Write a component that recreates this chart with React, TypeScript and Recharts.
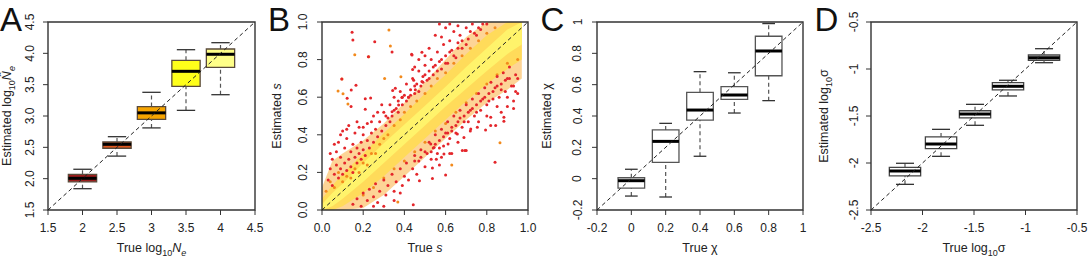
import React from 'react';
import { ComposedChart, XAxis, YAxis, Scatter, Area, ReferenceArea, ReferenceLine } from 'recharts';

const FONT = '"Liberation Sans", Arial, Helvetica, sans-serif';
const INK = '#222';

// Panel A: true vs estimated log10 Ne
const neTrue = [2, 2.5, 3, 3.5, 4];
const neLow = [1.84, 2.36, 2.81, 3.09, 3.34];
const neQ1 = [1.95, 2.485, 2.947, 3.474, 3.777];
const neMed = [2.006, 2.548, 3.05, 3.713, 3.985];
const neQ3 = [2.07, 2.585, 3.15, 3.888, 4.069];
const neHigh = [2.15, 2.67, 3.378, 4.058, 4.17];
const neFills = ['#9c1c1c', '#e2561c', '#f6a400', '#ffff1a', '#ffff88'];
const neTicks = [1.5, 2, 2.5, 3, 3.5, 4, 4.5];
const neXLabels = ['1.5', '2', '2.5', '3', '3.5', '4', '4.5'];
const neYLabels = ['1.5', '2.0', '2.5', '3.0', '3.5', '4.0', '4.5'];

// Panel B: true vs estimated s (dense cloud bands + scattered points)
const sBandX = [0, 0.05, 0.1, 0.2, 0.3, 0.4, 0.5, 0.6, 0.7, 0.8, 0.9, 0.97];
const sOuterLo = [0, 0, 0, 0.01, 0.08, 0.18, 0.28, 0.38, 0.48, 0.57, 0.64, 0.7];
const sOuterHi = [0.12, 0.26, 0.3, 0.37, 0.46, 0.57, 0.68, 0.8, 0.92, 1, 1, 1];
const sMidLo = [0, 0, 0.02, 0.09, 0.18, 0.28, 0.38, 0.48, 0.58, 0.67, 0.75, 0.8];
const sMidHi = [0.06, 0.13, 0.19, 0.3, 0.41, 0.51, 0.62, 0.72, 0.83, 0.93, 1, 1];
const sCoreLo = [0, 0.02, 0.06, 0.15, 0.25, 0.35, 0.45, 0.55, 0.645, 0.74, 0.83, 0.88];
const sCoreHi = [0.03, 0.09, 0.14, 0.25, 0.355, 0.455, 0.555, 0.655, 0.76, 0.86, 0.96, 1];

const sRed: [number, number][] = [
  [0.03, 0.16], [0.04, 0.22], [0.05, 0.27], [0.05, 0.13], [0.06, 0.19], [0.07, 0.24], [0.07, 0.31], [0.08, 0.17],
  [0.08, 0.36], [0.09, 0.22], [0.09, 0.28], [0.1, 0.42], [0.1, 0.19], [0.11, 0.25], [0.11, 0.33], [0.12, 0.21],
  [0.12, 0.38], [0.13, 0.27], [0.13, 0.45], [0.14, 0.23], [0.14, 0.31], [0.15, 0.35], [0.15, 0.2], [0.16, 0.28],
  [0.16, 0.41], [0.17, 0.25], [0.17, 0.33], [0.18, 0.3], [0.18, 0.44], [0.19, 0.27], [0.19, 0.36], [0.2, 0.32],
  [0.2, 0.4], [0.21, 0.29], [0.22, 0.37], [0.22, 0.46], [0.23, 0.33], [0.24, 0.41], [0.25, 0.36], [0.25, 0.5],
  [0.26, 0.43], [0.27, 0.39], [0.28, 0.47], [0.29, 0.42], [0.3, 0.52], [0.31, 0.45], [0.32, 0.49], [0.33, 0.56],
  [0.34, 0.5], [0.35, 0.6], [0.36, 0.54], [0.37, 0.58], [0.38, 0.63], [0.39, 0.56], [0.4, 0.61], [0.41, 0.67],
  [0.42, 0.6], [0.43, 0.64], [0.44, 0.7], [0.45, 0.62], [0.46, 0.67], [0.47, 0.74], [0.48, 0.66], [0.49, 0.71],
  [0.5, 0.77], [0.51, 0.69], [0.52, 0.74], [0.53, 0.8], [0.54, 0.72], [0.55, 0.77], [0.56, 0.84], [0.57, 0.79],
  [0.58, 0.75], [0.59, 0.88], [0.6, 0.82], [0.61, 0.78], [0.62, 0.9], [0.63, 0.85], [0.64, 0.95], [0.65, 0.81],
  [0.66, 0.89], [0.67, 0.93], [0.68, 0.86], [0.7, 0.97], [0.71, 0.91], [0.73, 0.99], [0.74, 0.94], [0.76, 0.97],
  [0.78, 0.99], [0.57, 0.99], [0.6, 0.97], [0.62, 0.99], [0.55, 0.93],
  [0.31, 0.5], [0.33, 0.47], [0.35, 0.53], [0.37, 0.52], [0.39, 0.6], [0.41, 0.58], [0.43, 0.61], [0.45, 0.66],
  [0.47, 0.63], [0.49, 0.68], [0.5, 0.72], [0.52, 0.7], [0.54, 0.76], [0.56, 0.74], [0.58, 0.8], [0.6, 0.78],
  [0.62, 0.84], [0.64, 0.82], [0.66, 0.86], [0.68, 0.9], [0.7, 0.88], [0.72, 0.95], [0.75, 0.93], [0.77, 0.96],
  [0.8, 0.99], [0.52, 0.86], [0.5, 0.82], [0.47, 0.8], [0.45, 0.76], [0.58, 0.92], [0.66, 0.98], [0.06, 0.35],
  [0.04, 0.3], [0.09, 0.4], [0.12, 0.43], [0.17, 0.47], [0.2, 0.44], [0.24, 0.47], [0.27, 0.52], [0.29, 0.56],
  [0.146, 0.945], [0.15, 0.904], [0.256, 0.895], [0.34, 0.84], [0.437, 0.824], [0.485, 0.839], [0.44, 0.748],
  [0.445, 0.69], [0.165, 0.663], [0.142, 0.638], [0.343, 0.635], [0.356, 0.647], [0.21, 0.592], [0.236, 0.596],
  [0.388, 0.599], [0.141, 0.55], [0.21, 0.536], [0.34, 0.523], [0.372, 0.558], [0.42, 0.6], [0.453, 0.64],
  [0.485, 0.683], [0.225, 0.815], [0.096, 0.697], [0.435, 0.828], [0.122, 0.594],
  [0.15, 0.03], [0.17, 0.06], [0.19, 0.02], [0.2, 0.09], [0.22, 0.05], [0.23, 0.11], [0.25, 0.07], [0.26, 0.14],
  [0.27, 0.04], [0.28, 0.1], [0.3, 0.16], [0.31, 0.08], [0.32, 0.13], [0.34, 0.19], [0.35, 0.1], [0.36, 0.15],
  [0.38, 0.22], [0.39, 0.13], [0.4, 0.18], [0.41, 0.25], [0.42, 0.16], [0.44, 0.22], [0.45, 0.29], [0.46, 0.19],
  [0.47, 0.26], [0.48, 0.32], [0.5, 0.23], [0.51, 0.3], [0.52, 0.36], [0.53, 0.27], [0.54, 0.33], [0.55, 0.4],
  [0.56, 0.3], [0.57, 0.37], [0.58, 0.43], [0.59, 0.34], [0.6, 0.41], [0.61, 0.47], [0.62, 0.38], [0.63, 0.44],
  [0.64, 0.5], [0.65, 0.41], [0.66, 0.47], [0.67, 0.53], [0.68, 0.44], [0.69, 0.5], [0.7, 0.56], [0.71, 0.47],
  [0.72, 0.53], [0.73, 0.59], [0.74, 0.5], [0.75, 0.56], [0.76, 0.62], [0.77, 0.53], [0.78, 0.59], [0.79, 0.65],
  [0.8, 0.56], [0.81, 0.62], [0.82, 0.68], [0.83, 0.59], [0.84, 0.65], [0.85, 0.71], [0.86, 0.6], [0.87, 0.67],
  [0.88, 0.73], [0.89, 0.63], [0.9, 0.7], [0.91, 0.76], [0.92, 0.66], [0.93, 0.58], [0.94, 0.72], [0.95, 0.62],
  [0.93, 0.54], [0.9, 0.55], [0.87, 0.52],
  [0.45, 0.26], [0.48, 0.28], [0.5, 0.31], [0.53, 0.31], [0.55, 0.35], [0.57, 0.33], [0.59, 0.39], [0.61, 0.41],
  [0.63, 0.42], [0.65, 0.45], [0.67, 0.49], [0.69, 0.47], [0.71, 0.52], [0.73, 0.54], [0.75, 0.52], [0.77, 0.58],
  [0.79, 0.6], [0.81, 0.58], [0.83, 0.63], [0.85, 0.66], [0.87, 0.64], [0.89, 0.69], [0.91, 0.7], [0.93, 0.66],
  [0.95, 0.7], [0.62, 0.3], [0.66, 0.36], [0.72, 0.42], [0.76, 0.47], [0.8, 0.5], [0.85, 0.55], [0.9, 0.6],
  [0.94, 0.63], [0.58, 0.28], [0.35, 0.05], [0.38, 0.09], [0.3, 0.02], [0.25, 0.02],
  [0.473, 0.156], [0.536, 0.167], [0.57, 0.239], [0.443, 0.028], [0.84, 0.254], [0.694, 0.316], [0.7, 0.316],
  [0.681, 0.316], [0.536, 0.223], [0.6, 0.186], [0.555, 0.27], [0.592, 0.298], [0.63, 0.301], [0.528, 0.351],
  [0.544, 0.333], [0.612, 0.351], [0.657, 0.404], [0.689, 0.386], [0.722, 0.431], [0.754, 0.44], [0.794, 0.426],
  [0.819, 0.449], [0.843, 0.449], [0.883, 0.472], [0.883, 0.493], [0.819, 0.493],
];

const sOrange: [number, number][] = [
  [0.325, 0.957], [0.332, 0.872], [0.159, 0.826], [0.227, 0.815], [0.304, 0.7], [0.383, 0.709], [0.078, 0.633],
  [0.102, 0.618], [0.126, 0.564], [0.368, 0.043], [0.864, 0.358], [0.63, 0.239], [0.097, 0.697],
  [0.02, 0.1], [0.04, 0.15], [0.06, 0.12], [0.08, 0.2], [0.1, 0.15], [0.12, 0.18], [0.14, 0.17], [0.16, 0.22],
  [0.18, 0.2], [0.2, 0.25], [0.22, 0.24], [0.24, 0.3], [0.26, 0.3], [0.28, 0.35], [0.3, 0.38], [0.32, 0.4],
  [0.35, 0.45], [0.38, 0.48], [0.4, 0.52], [0.43, 0.55], [0.46, 0.58], [0.5, 0.62], [0.53, 0.66], [0.56, 0.7],
  [0.6, 0.73], [0.64, 0.78], [0.68, 0.82], [0.72, 0.86], [0.76, 0.9], [0.8, 0.94], [0.84, 0.97],
  [0.2, 0.08], [0.25, 0.12], [0.3, 0.17], [0.35, 0.22], [0.4, 0.26], [0.45, 0.31], [0.5, 0.36], [0.55, 0.42],
  [0.6, 0.46], [0.65, 0.52], [0.7, 0.57], [0.75, 0.62], [0.8, 0.67], [0.85, 0.72], [0.9, 0.78], [0.95, 0.8],
];
const sTicks = [0, 0.2, 0.4, 0.6, 0.8, 1];
const sLabels = ['0.0', '0.2', '0.4', '0.6', '0.8', '1.0'];

// Panel C: true vs estimated chi
const chiTrue = [0, 0.2, 0.4, 0.6, 0.8];
const chiLow = [-0.111, -0.117, 0.143, 0.419, 0.498];
const chiQ1 = [-0.061, 0.104, 0.374, 0.506, 0.657];
const chiMed = [-0.013, 0.238, 0.438, 0.534, 0.815];
const chiQ3 = [0.006, 0.311, 0.551, 0.587, 0.909];
const chiHigh = [0.06, 0.353, 0.683, 0.676, 0.99];
const chiTicks = [-0.2, 0, 0.2, 0.4, 0.6, 0.8, 1];
const chiLabels = ['-0.2', '0', '0.2', '0.4', '0.6', '0.8', '1'];

// Panel D: true vs estimated log10 sigma
const sigTrue = [-2.17, -1.82, -1.49, -1.17, -0.82];
const sigLow = [-2.227, -1.929, -1.599, -1.287, -0.933];
const sigQ1 = [-2.138, -1.848, -1.521, -1.223, -0.907];
const sigMed = [-2.085, -1.798, -1.479, -1.184, -0.88];
const sigQ3 = [-2.046, -1.723, -1.444, -1.146, -0.851];
const sigHigh = [-2.003, -1.642, -1.376, -1.12, -0.784];
const sigTicks = [-2.5, -2, -1.5, -1, -0.5];
const sigLabels = ['-2.5', '-2', '-1.5', '-1', '-0.5'];

type Box = { x: number; lo: number; q1: number; med: number; q3: number; hi: number; fill: string };

const makeBoxes = (xs: number[], lo: number[], q1: number[], med: number[], q3: number[], hi: number[], fills: string[]): Box[] =>
  xs.map((x, i) => ({ x, lo: lo[i], q1: q1[i], med: med[i], q3: q3[i], hi: hi[i], fill: fills[i] }));

const boxMarks = (rows: Box[], half: number, cap: number, edge: string) => {
  const out: React.ReactNode[] = [];
  rows.forEach((b, i) => {
    out.push(
      <ReferenceLine key={`wu${i}`} segment={[{ x: b.x, y: b.q3 }, { x: b.x, y: b.hi }]} stroke="#555" strokeWidth={1.2} strokeDasharray="4 3" ifOverflow="visible" />,
      <ReferenceLine key={`wl${i}`} segment={[{ x: b.x, y: b.lo }, { x: b.x, y: b.q1 }]} stroke="#555" strokeWidth={1.2} strokeDasharray="4 3" ifOverflow="visible" />,
      <ReferenceLine key={`cu${i}`} segment={[{ x: b.x - cap, y: b.hi }, { x: b.x + cap, y: b.hi }]} stroke="#333" strokeWidth={1.3} ifOverflow="visible" />,
      <ReferenceLine key={`cl${i}`} segment={[{ x: b.x - cap, y: b.lo }, { x: b.x + cap, y: b.lo }]} stroke="#333" strokeWidth={1.3} ifOverflow="visible" />,
      <ReferenceArea key={`bx${i}`} x1={b.x - half} x2={b.x + half} y1={b.q1} y2={b.q3} fill={b.fill} fillOpacity={1} stroke={edge} strokeWidth={1.3} ifOverflow="visible" />,
      <ReferenceLine key={`md${i}`} segment={[{ x: b.x - half, y: b.med }, { x: b.x + half, y: b.med }]} stroke="#000" strokeWidth={3} ifOverflow="visible" />,
    );
  });
  return out;
};

// subscripts: lowered small tspan, the next tspan climbs back
const titleA = (lead: string, hat: boolean) => (
  <>
    <tspan>{lead} log</tspan>
    <tspan dy={3.5} fontSize={9}>10</tspan>
    <tspan dy={-3.5} fontStyle="italic">{hat ? 'N\u0302' : 'N'}</tspan>
    <tspan dy={3.5} fontSize={9} fontStyle="italic">e</tspan>
  </>
);
const titleB = (lead: string) => (
  <>
    <tspan>{lead} </tspan>
    <tspan fontStyle="italic">s</tspan>
  </>
);
const titleC = (lead: string) => <tspan>{lead} χ</tspan>;
const titleD = (lead: string) => (
  <>
    <tspan>{lead} log</tspan>
    <tspan dy={3.5} fontSize={9}>10</tspan>
    <tspan dy={-3.5}>σ</tspan>
  </>
);

const xTitle = (content: React.ReactNode) => (p: any) => {
  const vb = p.viewBox;
  return (
    <text x={vb.x + vb.width / 2} y={vb.y + 42} textAnchor="middle" fontSize={12.5} fill={INK} fontFamily={FONT}>
      {content}
    </text>
  );
};

const yTitle = (content: React.ReactNode, gap: number) => (p: any) => {
  const vb = p.viewBox;
  const bx = vb.x + vb.width - gap;
  const cy = vb.y + vb.height / 2;
  return (
    <text x={bx} y={cy} transform={`rotate(-90 ${bx} ${cy})`} textAnchor="middle" fontSize={12.5} fill={INK} fontFamily={FONT}>
      {content}
    </text>
  );
};

const yTick = (ticks: number[], labels: string[], dx: number) => (p: any) => {
  const i = ticks.findIndex((t) => Math.abs(t - p.payload.value) < 1e-9);
  const bx = p.x + dx;
  return (
    <text x={bx} y={p.y} transform={`rotate(-90 ${bx} ${p.y})`} textAnchor="middle" fontSize={12} fill={INK} fontFamily={FONT}>
      {labels[i]}
    </text>
  );
};

const xFmt = (ticks: number[], labels: string[]) => (v: number) =>
  labels[ticks.findIndex((t) => Math.abs(t - v) < 1e-9)];

type PanelProps = {
  left: number;
  width: number;
  yWidth: number;
  right: number;
  domain: [number, number];
  ticks: number[];
  xLabels: string[];
  yLabels: string[];
  xT: React.ReactNode;
  yT: React.ReactNode;
  yGap: number;
  tickDx: number;
  data: any[];
  children: React.ReactNode;
};

const Panel = (pp: PanelProps) => (
  <div style={{ position: 'absolute', left: pp.left, top: 0 }}>
    <ComposedChart width={pp.width} height={260} data={pp.data} margin={{ top: 22, right: pp.right, bottom: 0, left: 0 }}>
      <XAxis
        type="number"
        dataKey="x"
        domain={pp.domain}
        ticks={pp.ticks}
        interval={0}
        allowDataOverflow
        height={50}
        axisLine={false}
        tickLine={{ stroke: '#333' }}
        tickSize={5}
        tickMargin={8}
        tick={{ fontSize: 12, fill: INK, fontFamily: FONT }}
        tickFormatter={xFmt(pp.ticks, pp.xLabels)}
        label={xTitle(pp.xT)}
      />
      <YAxis
        type="number"
        dataKey="y"
        domain={pp.domain}
        ticks={pp.ticks}
        interval={0}
        allowDataOverflow
        width={pp.yWidth}
        axisLine={false}
        tickLine={{ stroke: '#333' }}
        tickSize={5}
        tickMargin={0}
        tick={yTick(pp.ticks, pp.yLabels, pp.tickDx)}
        label={yTitle(pp.yT, pp.yGap)}
      />
      {pp.children}
      <ReferenceLine
        segment={[{ x: pp.domain[0], y: pp.domain[0] }, { x: pp.domain[1], y: pp.domain[1] }]}
        stroke="#222"
        strokeWidth={1}
        strokeDasharray="4 3"
        ifOverflow="visible"
      />
      <ReferenceArea x1={pp.domain[0]} x2={pp.domain[1]} y1={pp.domain[0]} y2={pp.domain[1]} fill="none" stroke="#333" strokeWidth={1.4} ifOverflow="visible" />
    </ComposedChart>
  </div>
);

const dot = (color: string) => (p: any) => <circle cx={p.cx} cy={p.cy} r={1.5} fill={color} />;
const hidden = () => <g />;

export default function App() {
  const neBoxes = makeBoxes(neTrue, neLow, neQ1, neMed, neQ3, neHigh, neFills);
  const chiBoxes = makeBoxes(chiTrue, chiLow, chiQ1, chiMed, chiQ3, chiHigh, chiTrue.map(() => '#fff'));
  const sigBoxes = makeBoxes(sigTrue, sigLow, sigQ1, sigMed, sigQ3, sigHigh, sigTrue.map(() => '#fff'));
  const medPts = (rows: Box[]) => rows.map((b) => ({ x: b.x, y: b.med }));

  const bands = sBandX.map((x, i) => ({
    x,
    outer: [sOuterLo[i], sOuterHi[i]],
    mid: [sMidLo[i], sMidHi[i]],
    core: [sCoreLo[i], sCoreHi[i]],
  }));
  const redPts = sRed.map(([x, y]) => ({ x, y }));
  const orangePts = sOrange.map(([x, y]) => ({ x, y }));

  return (
    <div style={{ position: 'absolute', left: 0, top: 0, width: 1089, height: 260, fontFamily: FONT, background: '#fff', overflow: 'hidden' }}>
      <Panel left={0} width={272} yWidth={48} right={17} domain={[1.5, 4.5]} ticks={neTicks} xLabels={neXLabels} yLabels={neYLabels}
        xT={titleA('True', false)} yT={titleA('Estimated', true)} yGap={37} tickDx={-9} data={medPts(neBoxes)}>
        <Scatter dataKey="y" shape={hidden} isAnimationActive={false} />
        {boxMarks(neBoxes, 0.205, 0.133, '#5a4a3a')}
      </Panel>

      <Panel left={262} width={282} yWidth={60} right={16} domain={[0, 1]} ticks={sTicks} xLabels={sLabels} yLabels={sLabels}
        xT={titleB('True')} yT={titleB('Estimated')} yGap={41} tickDx={-10} data={bands}>
        <Area type="linear" dataKey="outer" stroke="none" fill="#fbb040" fillOpacity={0.55} isAnimationActive={false} />
        <Area type="linear" dataKey="mid" stroke="none" fill="#ffdc50" fillOpacity={0.85} isAnimationActive={false} />
        <Scatter data={orangePts} dataKey="y" shape={dot('#f28a1c')} isAnimationActive={false} />
        <Scatter data={redPts} dataKey="y" shape={dot('#e4262b')} isAnimationActive={false} />
        <Area type="linear" dataKey="core" stroke="none" fill="#fff36b" fillOpacity={1} isAnimationActive={false} />
      </Panel>

      <Panel left={532} width={282} yWidth={65} right={11} domain={[-0.2, 1]} ticks={chiTicks} xLabels={chiLabels} yLabels={chiLabels}
        xT={titleC('True')} yT={titleC('Estimated')} yGap={46} tickDx={-10.5} data={medPts(chiBoxes)}>
        <Scatter dataKey="y" shape={hidden} isAnimationActive={false} />
        {boxMarks(chiBoxes, 0.0775, 0.037, '#555')}
      </Panel>

      <Panel left={806} width={283} yWidth={65} right={12} domain={[-2.5, -0.5]} ticks={sigTicks} xLabels={sigLabels} yLabels={sigLabels}
        xT={titleD('True')} yT={titleD('Estimated')} yGap={43} tickDx={-8.5} data={medPts(sigBoxes)}>
        <Scatter dataKey="y" shape={hidden} isAnimationActive={false} />
        {boxMarks(sigBoxes, 0.152, 0.0875, '#444')}
      </Panel>

      <svg width={1089} height={260} style={{ position: 'absolute', left: 0, top: 0, pointerEvents: 'none' }}>
        <g fontFamily={FONT} fontSize={33} fill="#111">
          <text x={0} y={31}>A</text>
          <text x={268} y={31}>B</text>
          <text x={540.5} y={31}>C</text>
          <text x={814.5} y={31}>D</text>
        </g>
      </svg>
    </div>
  );
}
